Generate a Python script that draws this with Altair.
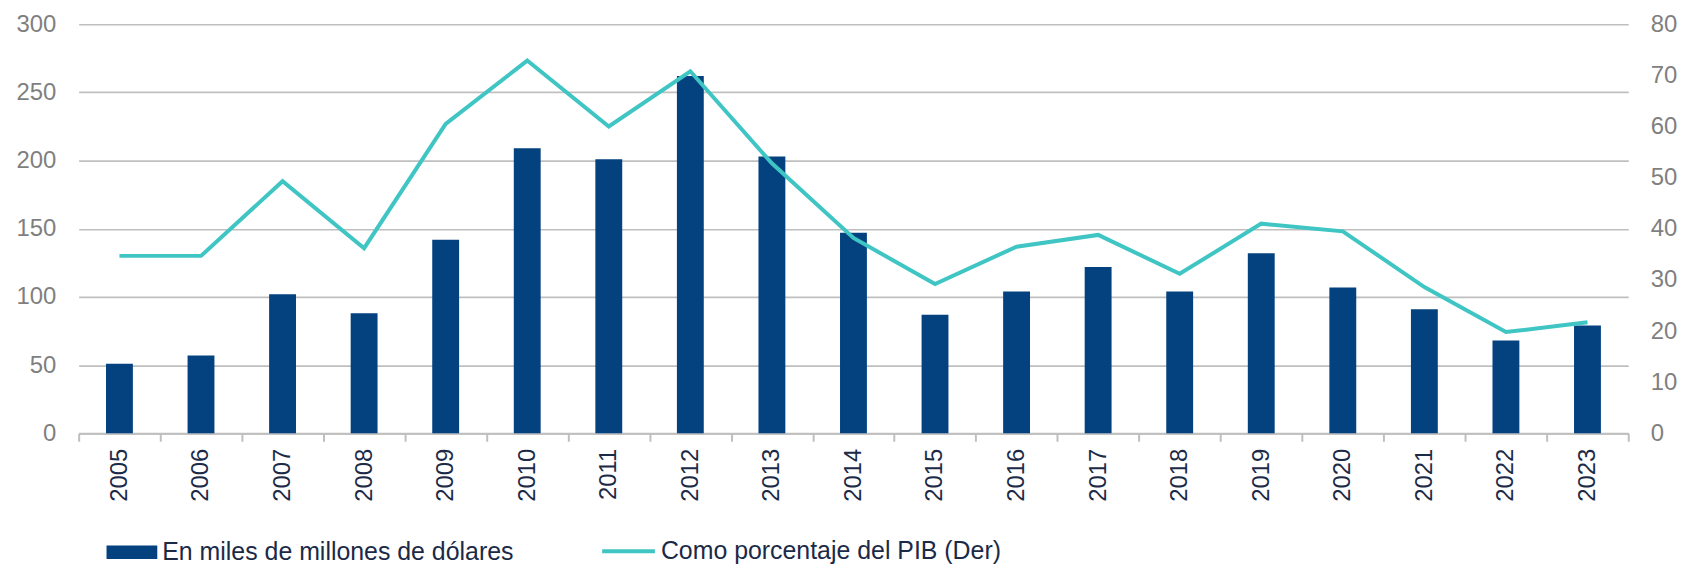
import altair as alt
import pandas as pd

years = ["2005", "2006", "2007", "2008", "2009", "2010", "2011", "2012", "2013", "2014",
         "2015", "2016", "2017", "2018", "2019", "2020", "2021", "2022", "2023"]
usd_bn = [51, 57, 102, 88, 142, 209, 201, 262, 203, 147, 87, 104, 122, 104, 132, 107, 91, 68, 79]
pct_gdp = [34.7, 34.7, 49.3, 36.2, 60.5, 72.9, 60.0, 70.8, 52.8, 38.2, 29.2, 36.5, 38.8,
           31.2, 41.0, 39.5, 28.6, 19.8, 21.7]
bar_name = "En miles de millones de dólares"
line_name = "Como porcentaje del PIB (Der)"
left_ticks = [0, 50, 100, 150, 200, 250, 300]
right_ticks = [0, 10, 20, 30, 40, 50, 60, 70, 80]

df = pd.DataFrame({
    "year": years,
    "usd": usd_bn,
    "pct": pct_gdp,
    "s1": [bar_name] * len(years),
    "s2": [line_name] * len(years),
})

FONT = "Liberation Sans"
NAVY = "#1b2a47"
GREY_TXT = "#7f7f7f"
GRID = "#bfbfbf"
BAR = "#03427f"
LINE = "#3fc5c3"

x_enc = alt.X(
    "year:N",
    sort=years,
    scale=alt.Scale(paddingInner=0, paddingOuter=0),
    axis=alt.Axis(
        title=None, labelAngle=-90, labelFont=FONT, labelFontSize=24, labelColor=NAVY,
        labelPadding=7, tickBand="extent", tickSize=8, tickColor=GRID, tickWidth=2,
        domainColor=GRID, domainWidth=2, grid=False,
    ),
)

bars = alt.Chart(df).mark_bar(size=27).encode(
    x=x_enc,
    y=alt.Y(
        "usd:Q",
        scale=alt.Scale(domain=[0, 300], nice=False),
        axis=alt.Axis(
            orient="left", title=None, values=left_ticks, grid=True, gridColor=GRID,
            gridWidth=1.7, domain=False, ticks=False, labelPadding=23, labelFont=FONT,
            labelFontSize=24, labelColor=GREY_TXT,
        ),
    ),
    fill=alt.Fill(
        "s1:N",
        scale=alt.Scale(range=[BAR]),
        legend=alt.Legend(
            title=None, orient="none", legendX=28, legendY=505, padding=0,
            symbolType="M-1,-0.27H1V0.27H-1Z", symbolSize=2601, symbolStrokeWidth=0,
            labelFont=FONT, labelFontSize=25, labelColor=NAVY, labelOffset=5,
            labelLimit=800,
        ),
    ),
)

line = alt.Chart(df).mark_line(strokeWidth=4).encode(
    x=x_enc,
    y=alt.Y(
        "pct:Q",
        scale=alt.Scale(domain=[0, 80], nice=False),
        axis=alt.Axis(
            orient="right", title=None, values=right_ticks, grid=False, domain=False,
            ticks=False, labelPadding=22, labelFont=FONT, labelFontSize=24,
            labelColor=GREY_TXT,
        ),
    ),
    stroke=alt.Stroke(
        "s2:N",
        scale=alt.Scale(range=[LINE]),
        legend=alt.Legend(
            title=None, orient="none", legendX=524, legendY=501, padding=0,
            symbolType="M-1,0H1", symbolSize=2809, symbolStrokeWidth=4,
            labelFont=FONT, labelFontSize=25, labelColor=NAVY, labelOffset=4,
            labelLimit=800,
        ),
    ),
)

chart = (
    alt.layer(bars, line)
    .resolve_scale(y="independent", fill="independent", stroke="independent")
    .properties(
        width=1557, height=411,
        autosize=alt.AutoSizeParams(type="none"),
        padding={"left": 71, "top": 15, "right": 54, "bottom": 133},
        background="white",
    )
    .configure_view(stroke=None)
)

chart.save("out.html", embed_options={"renderer": "svg", "actions": False})
